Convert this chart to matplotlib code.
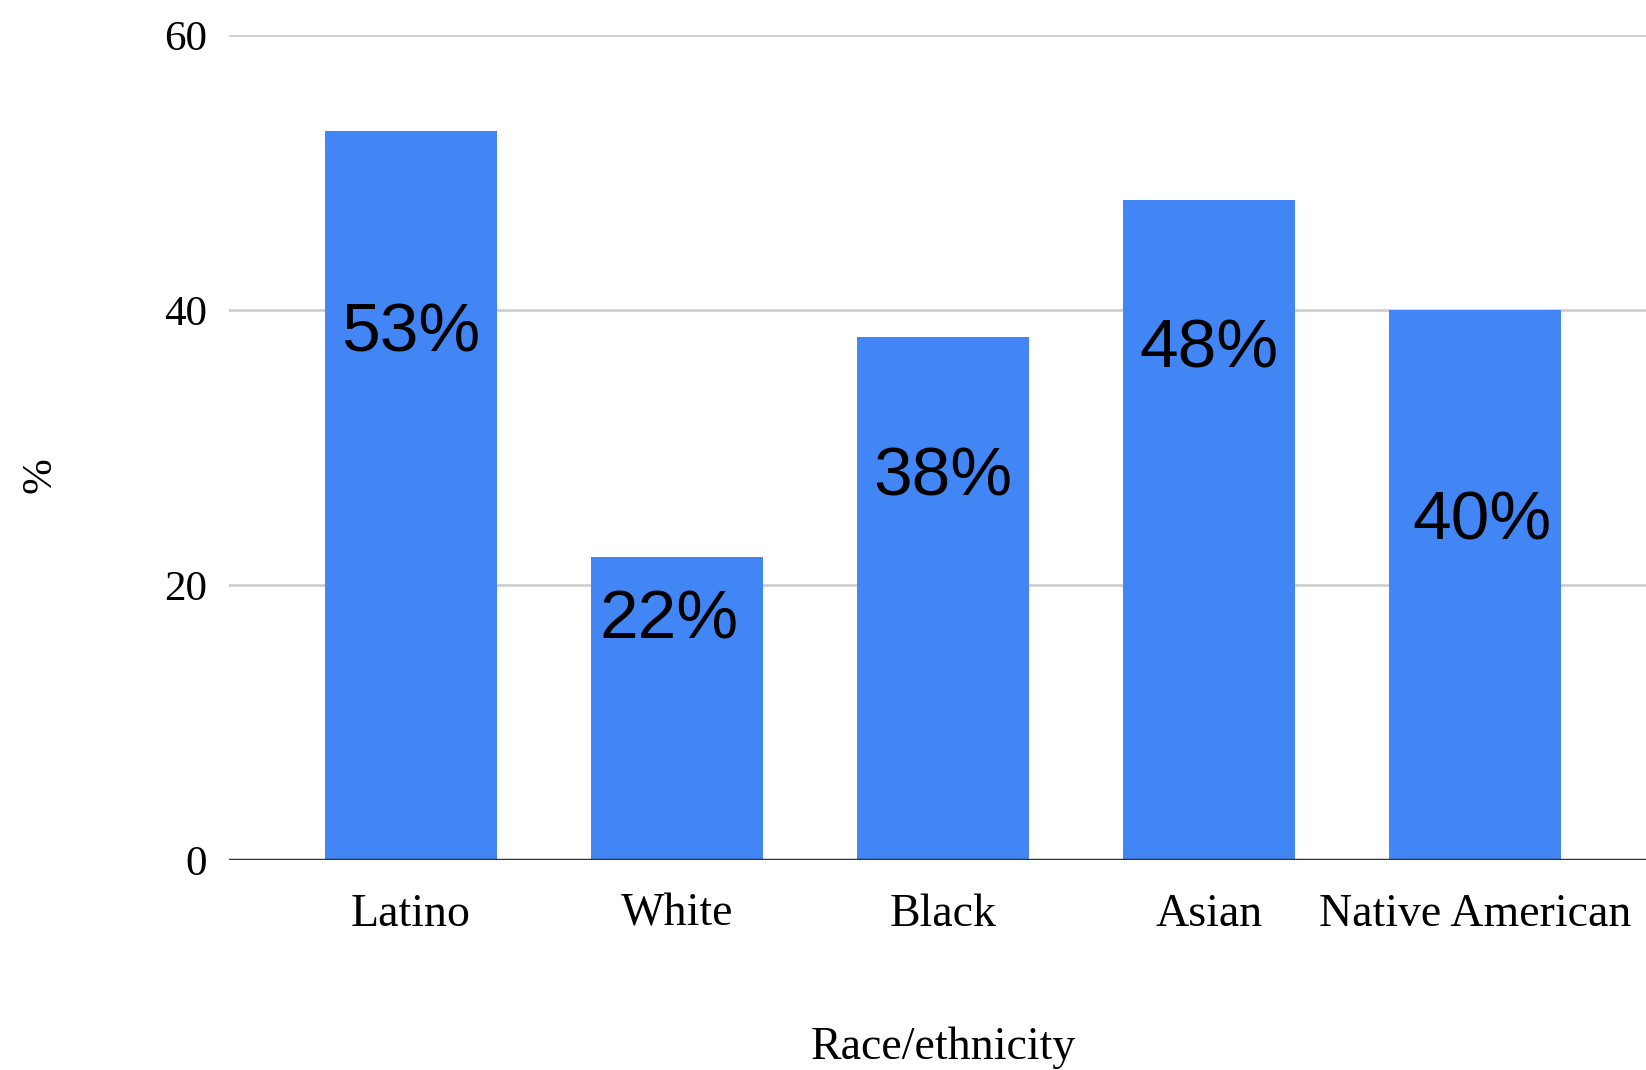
import numpy as np
import matplotlib.pyplot as plt

# share of each group, in percent
groups = ['Latino', 'White', 'Black', 'Asian', 'Native American']
shares = [53, 22, 38, 48, 40]
# where the value labels sit inside the bars (axis units)
label_y = [38.3, 17.4, 27.8, 37.1, 24.6]
label_dx = [0.0, -0.028, 0.0, 0.0, 0.028]
y_ticks = [0, 20, 40, 60]

bar_color = '#4285F4'
serif = ['Liberation Serif', 'DejaVu Serif']

fig = plt.figure(figsize=(16.46, 10.70), dpi=100)
ax = fig.add_axes([0.1391, 0.1963, 0.8609, 0.7710])

x = np.arange(len(groups))
ax.bar(x, shares, width=0.647, color=bar_color, zorder=3)

for xi, v, ly, dx in zip(x, shares, label_y, label_dx):
    ax.text(xi + dx, ly, f'{v}%', ha='center', va='center', fontsize=50,
            family=['Liberation Sans', 'DejaVu Sans'], color='black', zorder=4)

ax.set_xlim(-0.684, 4.643)
ax.set_ylim(0, 60)
ax.set_yticks(y_ticks)
ax.set_xticks(x)
ax.set_xticklabels(groups, fontsize=33, family=serif)
ax.set_yticklabels([str(t) for t in y_ticks], fontsize=31, family=serif)
ax.tick_params(axis='both', length=0)
ax.tick_params(axis='y', pad=16)
ax.tick_params(axis='x', pad=24)

ax.yaxis.grid(True, color='#d0d0d0', linewidth=2, zorder=0)
ax.axhline(0, color='#333333', linewidth=2.5, zorder=5)
for s in ax.spines.values():
    s.set_visible(False)

fig.text(0.5728, 1 - 1048 / 1070, 'Race/ethnicity', ha='center', va='center',
         fontsize=33, family=serif)
fig.text(40 / 1646, 1 - 475 / 1070, '%', ha='center', va='center',
         rotation=90, fontsize=31, family=serif)

fig.savefig('out.png', dpi=100)
